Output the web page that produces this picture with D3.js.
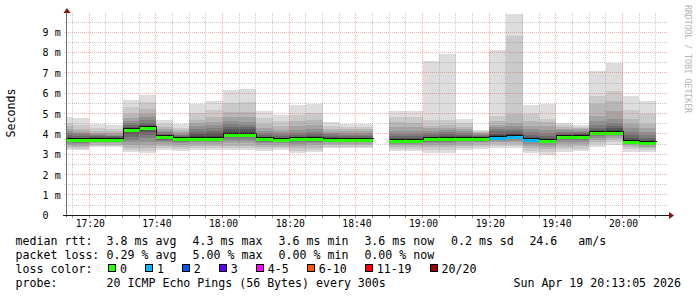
<!DOCTYPE html>
<html><head><meta charset="utf-8">
<script src="https://cdn.jsdelivr.net/npm/d3@7"></script>
<style>
body{margin:0;background:#fff}
svg{display:block}
text{font-family:"DejaVu Sans Mono",monospace;white-space:pre}
</style>
</head><body><svg id="c" width="697" height="297"></svg>
<script>
// ---------- data ----------
const viewStart = Date.UTC(2026,3,19,17,13,5);
const viewEnd   = Date.UTC(2026,3,19,20,13,5);
const firstBarStart = Date.UTC(2026,3,19,17,10,0);
const stepMs = 5*60*1000;

// 20 sorted ping RTTs (ms) per 5-minute step; null = no data
const pings = [
 [3.22,3.30,3.38,3.45,3.52,3.58,3.62,3.65,3.67,3.69,3.72,3.78,3.85,3.95,4.05,4.15,4.25,4.40,4.55,4.85],
 [3.20,3.28,3.35,3.42,3.50,3.56,3.60,3.64,3.67,3.69,3.72,3.76,3.82,3.90,3.98,4.05,4.12,4.25,4.45,4.78],
 [3.38,3.42,3.48,3.53,3.58,3.62,3.66,3.69,3.71,3.74,3.79,3.82,3.86,3.90,3.95,4.00,4.06,4.15,4.30,4.48],
 [3.36,3.42,3.48,3.54,3.59,3.63,3.67,3.69,3.71,3.74,3.79,3.82,3.85,3.88,3.92,3.97,4.03,4.12,4.25,4.42],
 [3.13,3.22,3.32,3.45,3.58,3.72,3.85,3.98,4.08,4.16,4.22,4.28,4.36,4.45,4.55,4.65,4.80,5.00,5.30,5.68],
 [3.08,3.18,3.30,3.45,3.62,3.80,3.95,4.08,4.18,4.25,4.32,4.38,4.45,4.55,4.68,4.82,5.00,5.25,5.55,5.93],
 [3.22,3.30,3.40,3.50,3.58,3.66,3.72,3.77,3.80,3.83,3.88,3.92,3.97,4.02,4.08,4.15,4.24,4.35,4.50,4.70],
 [3.15,3.25,3.35,3.45,3.54,3.61,3.66,3.70,3.73,3.75,3.79,3.82,3.86,3.90,3.95,4.01,4.08,4.18,4.30,4.48],
 [3.22,3.32,3.42,3.52,3.60,3.66,3.70,3.73,3.74,3.76,3.82,3.90,4.00,4.10,4.22,4.37,4.52,4.68,5.02,5.45],
 [3.22,3.30,3.40,3.50,3.58,3.65,3.70,3.73,3.74,3.76,3.83,3.92,4.03,4.15,4.28,4.42,4.60,4.85,5.20,5.64],
 [3.22,3.32,3.42,3.55,3.66,3.76,3.85,3.90,3.93,3.95,4.00,4.10,4.22,4.35,4.47,4.62,4.85,5.10,5.50,6.14],
 [3.22,3.32,3.42,3.55,3.66,3.76,3.85,3.90,3.93,3.95,4.00,4.10,4.22,4.33,4.45,4.60,4.82,5.10,5.55,6.20],
 [3.15,3.25,3.35,3.45,3.54,3.61,3.66,3.70,3.73,3.74,3.77,3.80,3.86,3.94,4.04,4.15,4.30,4.50,4.78,5.15],
 [3.22,3.30,3.38,3.46,3.53,3.58,3.62,3.65,3.67,3.69,3.72,3.76,3.82,3.90,3.98,4.08,4.20,4.38,4.62,4.95],
 [3.08,3.18,3.30,3.42,3.52,3.60,3.65,3.69,3.71,3.73,3.76,3.80,3.86,3.95,4.06,4.20,4.38,4.62,4.95,5.40],
 [3.10,3.20,3.32,3.44,3.54,3.61,3.66,3.69,3.71,3.73,3.76,3.81,3.88,3.98,4.10,4.25,4.45,4.70,5.05,5.45],
 [3.30,3.38,3.45,3.52,3.58,3.62,3.65,3.68,3.70,3.72,3.75,3.79,3.84,3.90,3.98,4.06,4.15,4.26,4.40,4.60],
 [3.30,3.38,3.45,3.52,3.58,3.62,3.65,3.68,3.70,3.72,3.75,3.78,3.82,3.88,3.95,4.03,4.12,4.22,4.34,4.48],
 [3.30,3.38,3.45,3.52,3.58,3.62,3.65,3.68,3.70,3.72,3.75,3.78,3.82,3.88,3.95,4.03,4.12,4.22,4.35,4.50],
 null,
 [3.15,3.28,3.38,3.45,3.50,3.53,3.56,3.58,3.60,3.62,3.66,3.70,3.78,3.88,4.00,4.15,4.35,4.58,4.85,5.15],
 [3.15,3.28,3.38,3.45,3.50,3.53,3.56,3.58,3.60,3.62,3.66,3.70,3.78,3.88,4.00,4.15,4.35,4.55,4.82,5.12],
 [3.05,3.20,3.35,3.48,3.56,3.62,3.66,3.69,3.71,3.73,3.77,3.80,3.86,3.95,4.05,4.15,4.28,4.40,4.67,7.57],
 [3.05,3.20,3.35,3.48,3.56,3.62,3.66,3.69,3.71,3.73,3.77,3.84,3.90,3.98,4.08,4.18,4.30,4.42,4.68,7.95],
 [3.22,3.32,3.42,3.52,3.60,3.66,3.69,3.71,3.72,3.74,3.78,3.82,3.88,3.95,4.03,4.12,4.22,4.35,4.52,4.75],
 [3.25,3.35,3.45,3.53,3.59,3.63,3.66,3.69,3.71,3.72,3.76,3.79,3.83,3.88,3.93,3.98,4.04,4.10,4.15,4.20],
 [3.30,3.40,3.50,3.58,3.65,3.70,3.74,3.77,3.79,3.81,3.86,3.94,4.02,4.12,4.22,4.32,4.45,4.62,4.87,8.15],
 [3.30,3.42,3.52,3.60,3.67,3.73,3.77,3.79,3.81,3.83,3.88,3.98,4.05,4.12,4.25,4.38,4.52,5.00,8.83,9.90],
 [3.05,3.18,3.30,3.42,3.52,3.60,3.65,3.67,3.68,3.70,3.74,3.80,3.87,3.96,4.08,4.22,4.40,4.65,4.98,5.40],
 [2.98,3.12,3.25,3.38,3.48,3.55,3.60,3.63,3.65,3.66,3.70,3.75,3.82,3.92,4.05,4.20,4.38,4.58,4.75,5.48],
 [3.13,3.25,3.38,3.50,3.60,3.68,3.74,3.78,3.81,3.83,3.86,3.92,3.97,4.03,4.10,4.18,4.26,4.35,4.45,4.54],
 [3.15,3.28,3.40,3.52,3.62,3.70,3.76,3.80,3.83,3.85,3.88,3.95,4.00,4.05,4.10,4.16,4.22,4.28,4.34,4.42],
 [3.38,3.50,3.62,3.72,3.82,3.90,3.96,4.00,4.02,4.04,4.08,4.13,4.20,4.30,4.45,4.62,4.87,5.45,5.86,7.10],
 [3.45,3.58,3.70,3.80,3.90,3.98,4.03,4.05,4.06,4.08,4.12,4.20,4.28,4.40,4.55,4.75,5.11,5.60,6.10,7.50],
 [3.13,3.25,3.35,3.44,3.50,3.54,3.57,3.59,3.61,3.62,3.66,3.72,3.82,3.95,4.10,4.28,4.50,4.72,5.20,5.88],
 [3.13,3.22,3.30,3.38,3.44,3.48,3.51,3.53,3.54,3.56,3.60,3.65,3.72,3.82,3.95,4.10,4.28,4.50,5.00,5.60]
];
const medians = [3.68,3.69,3.72,3.72,4.18,4.27,3.83,3.75,3.75,3.75,3.96,3.96,3.75,3.69,3.73,3.73,3.72,3.72,3.72,null,
                 3.63,3.63,3.75,3.74,3.74,3.73,3.80,3.83,3.69,3.67,3.83,3.85,4.05,4.07,3.62,3.56];
const lossCounts = [0,0,0,0,0,0,0,0,0,0,0,0,0,0,0,0,0,0,0,null,0,0,0,0,0,0,1,1,1,0,0,0,0,0,0,0];

const yTicks = [0,1,2,3,4,5,6,7,8,9];
const yUnit = "m";
const yTitle = "Seconds";
const watermark = "RRDTOOL / TOBI OETIKER";

const lossLabels = ["0","1","2","3","4-5","6-10","11-19","20/20"];
const lossLimits = [0,1,2,3,5,10,19,20];
const lossColors = ["#26ff00","#00b8ff","#0059ff","#5e00ff","#ff00ff","#ff5500","#ff0000","#a10000"];

const medianTitle = "median rtt:";
const medianStats = ["3.8 ms avg","4.3 ms max","3.6 ms min","3.6 ms now","0.2 ms sd","24.6   am/s"];
const lossTitle = "packet loss:";
const lossStats = ["0.29 % avg","5.00 % max","0.00 % min","0.00 % now"];
const colorTitle = "loss color:";
const probeTitle = "probe:";
const probeText = "20 ICMP Echo Pings (56 Bytes) every 300s";
const dateText = "Sun Apr 19 20:13:05 2026";

// ---------- layout ----------
const svg = d3.select("#c");
const L = 66.2, R = 666.2, T = 12, B = 215.3;
const x = d3.scaleUtc().domain([viewStart, viewEnd]).range([L, R]);
const y = d3.scaleLinear().domain([0, 10]).range([B, 11.9]);
const px = v => Math.floor(v) + 0.5;

svg.append("rect").attr("width",697).attr("height",297).attr("fill","#fff");
svg.append("defs").append("clipPath").attr("id","clip")
  .append("rect").attr("x",67).attr("y",T).attr("width",R-67+0.5).attr("height",B-T);

const plot = svg.append("g").attr("clip-path","url(#clip)");

// smoke
const half = 10;
const bars = pings.map((p,i)=>({p, m: medians[i], loss: lossCounts[i],
  t0: firstBarStart + i*stepMs, t1: firstBarStart + (i+1)*stepMs}));
for (let lay = 1; lay <= half; lay++) {
  const g = Math.floor(190/half*(half-lay)) + 50;
  const col = d3.rgb(g,g,g).formatHex();
  plot.append("g").selectAll("rect").data(bars.filter(b=>b.p)).join("rect")
    .attr("shape-rendering","crispEdges")
    .attr("x", b => Math.round(x(b.t0)))
    .attr("width", b => Math.round(x(b.t1)) - Math.round(x(b.t0)))
    .attr("y", b => Math.round(y(b.p[20-lay])))
    .attr("height", b => Math.max(1, Math.round(y(b.p[lay-1])) - Math.round(y(b.p[20-lay]))))
    .attr("fill", col);
}

// grid
const grid = svg.append("g").attr("shape-rendering","crispEdges");
const minorC = "rgba(140,140,140,0.45)", majorC = "rgba(222,80,80,0.45)";
d3.range(0.5, 10, 1).forEach(v => {
  grid.append("line").attr("x1",64).attr("x2",R+1).attr("y1",px(y(v))).attr("y2",px(y(v)))
    .attr("stroke",minorC).attr("stroke-dasharray","1,1");
});
d3.range(1, 10, 1).forEach(v => {
  grid.append("line").attr("x1",64).attr("x2",R+1).attr("y1",px(y(v))).attr("y2",px(y(v)))
    .attr("stroke",majorC).attr("stroke-dasharray","1,1");
});
x.ticks(d3.utcMinute.every(5)).forEach(t => {
  const major = new Date(t).getUTCMinutes() % 20 === 0;
  grid.append("line").attr("x1",px(x(t))).attr("x2",px(x(t))).attr("y1",T+1).attr("y2",B+2)
    .attr("stroke", major ? majorC : minorC).attr("stroke-dasharray","1,1");
});

// median step line + loss-colored band
const pts = [];
bars.forEach((b,i) => {
  if (b.m == null) { pts.push({t:b.t0, m:null}); return; }
  pts.push({t:b.t0, m:b.m});
  const nb = bars[i+1];
  if (!nb || nb.m == null) pts.push({t:b.t1, m:b.m});
});
const stepLine = d3.line().defined(d=>d.m!=null).curve(d3.curveStepAfter)
  .x(d=>Math.round(x(d.t))+0.5).y(d=>Math.round(y(d.m))-1.5);
const lossColor = l => lossColors[lossLimits.findIndex(v => l <= v)];
plot.append("g").selectAll("rect").data(bars.filter(b=>b.m!=null)).join("rect")
  .attr("shape-rendering","crispEdges")
  .attr("x", b => Math.round(x(b.t0)))
  .attr("width", b => Math.round(x(b.t1)) - Math.round(x(b.t0)))
  .attr("y", b => Math.round(y(b.m)) - 1)
  .attr("height", 3)
  .attr("fill", b => lossColor(b.loss));
plot.append("path").attr("d", stepLine(pts)).attr("fill","none")
  .attr("stroke","#111").attr("stroke-width",1).attr("shape-rendering","crispEdges");

// axes
const xAxis = svg.append("g").attr("transform",`translate(0,${B})`)
  .call(d3.axisBottom(x).ticks(d3.utcMinute.every(20)).tickFormat(d3.utcFormat("%H:%M")).tickSize(0));
xAxis.select(".domain").remove();
xAxis.selectAll("text").attr("y",12).attr("dy",0).attr("dx",0.5)
  .attr("font-size","9.7px").attr("font-family","DejaVu Sans Mono").attr("fill","#000");

const yAxis = svg.append("g").attr("transform",`translate(${L},0)`)
  .call(d3.axisLeft(y).tickValues(yTicks).tickFormat(v => v===0 ? "0" : `${v} ${yUnit}`).tickSize(0));
yAxis.select(".domain").remove();
yAxis.selectAll("text").attr("text-anchor","start").attr("x", 42.6 - L).attr("dy","0.34em")
  .attr("font-size","10px").attr("font-family","DejaVu Sans Mono").attr("fill","#000");

// small ticks under axis
x.ticks(d3.utcMinute.every(5)).forEach(t => {
  const major = new Date(t).getUTCMinutes() % 20 === 0;
  svg.append("line").attr("x1",px(x(t))).attr("x2",px(x(t))).attr("y1",B+0.5).attr("y2",B+3)
    .attr("stroke", major ? "#d08080" : "#999").attr("shape-rendering","crispEdges");
});

// axis lines and arrows
svg.append("line").attr("x1",66.5).attr("x2",66.5).attr("y1",12).attr("y2",217)
  .attr("stroke","#707070").attr("shape-rendering","crispEdges");
svg.append("line").attr("x1",63).attr("x2",670).attr("y1",215.5).attr("y2",215.5)
  .attr("stroke","#1a1a1a").attr("shape-rendering","crispEdges");
svg.append("path").attr("d","M63.5,13 L70.5,13 L67,8 Z").attr("fill","#8b1010");
svg.append("path").attr("d","M669,212 L669,219 L674,215.5 Z").attr("fill","#8b1010");

// titles
svg.append("text").attr("transform","translate(14.5,113) rotate(-90)").attr("text-anchor","middle")
  .attr("font-size","11.6px").text(yTitle);
svg.append("text").attr("transform","translate(684.5,5) rotate(90)")
  .attr("font-size","8.2px").attr("fill","#b4b4b4").attr("textLength",108).text(watermark);

// legend
const fs = "11.6px";
const leg = svg.append("g").attr("font-size",fs).attr("fill","#000");
const statX = [106.6,192.6,278.6,364.4,451,529.4];
leg.append("text").attr("x",15.6).attr("y",245).text(medianTitle);
medianStats.forEach((s,i)=>leg.append("text").attr("x",statX[i]).attr("y",245).text(s));
leg.append("text").attr("x",15.6).attr("y",259).text(lossTitle);
lossStats.forEach((s,i)=>leg.append("text").attr("x",statX[i]).attr("y",259).text(s));
leg.append("text").attr("x",15.6).attr("y",273).text(colorTitle);
let bx = 108.3;
lossLabels.forEach((lab,i)=>{
  leg.append("rect").attr("x",Math.round(bx)+0.5).attr("y",264.5).attr("width",7).attr("height",7)
    .attr("fill",lossColors[i]).attr("stroke","#000").attr("stroke-width",1);
  const tx = bx + 11.6;
  leg.append("text").attr("x",tx).attr("y",273).text(lab);
  bx = tx + 6.98*lab.length + 18.4;
});
leg.append("text").attr("x",15.6).attr("y",287).text(probeTitle);
leg.append("text").attr("x",106.6).attr("y",287).text(probeText);
leg.append("text").attr("x",681).attr("y",287).attr("text-anchor","end").text(dateText);
</script>
</body></html>
